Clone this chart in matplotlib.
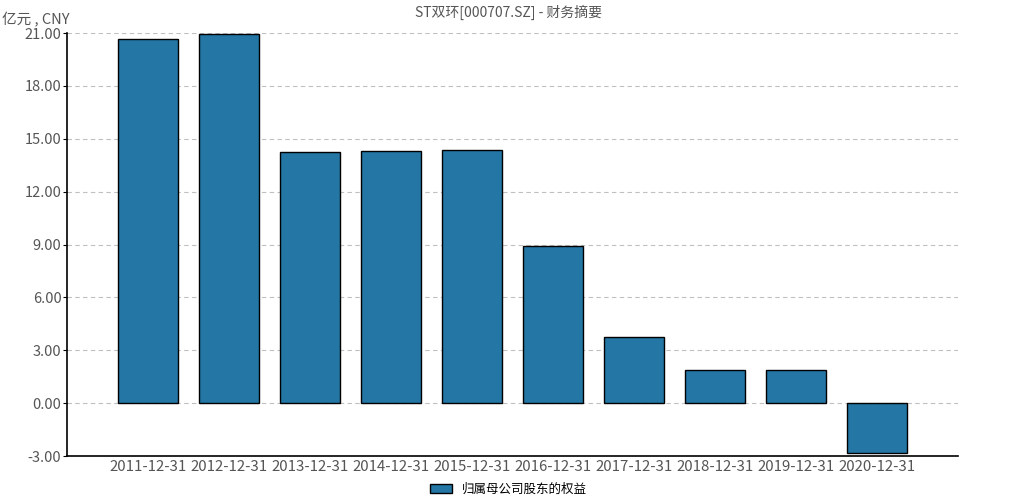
import numpy as np
import matplotlib.pyplot as plt
from matplotlib.ticker import FormatStrFormatter

plt.rcParams['font.family'] = ['Noto Sans CJK SC', 'DejaVu Sans']

# 数据
dates = ["2011-12-31", "2012-12-31", "2013-12-31", "2014-12-31", "2015-12-31",
         "2016-12-31", "2017-12-31", "2018-12-31", "2019-12-31", "2020-12-31"]
equity = [20.66, 20.94, 14.25, 14.30, 14.36, 8.91, 3.75, 1.88, 1.88, -2.83]
yticks = [-3, 0, 3, 6, 9, 12, 15, 18, 21]

text_color = "#555555"

fig = plt.figure(figsize=(10.17, 5.01), dpi=100)
ax = fig.add_axes([0.0659, 0.0898, 0.876, 0.8443])

x = np.arange(len(dates))
ax.bar(x, equity, width=0.75, color="#2476a4", edgecolor="black", linewidth=1,
       label="归属母公司股东的权益", zorder=3)

ax.set_xlim(-1, 10)
ax.set_ylim(-3, 21)
ax.set_xticks(x)
ax.set_xticklabels(dates, fontsize=10.8, color=text_color)
ax.set_yticks(yticks)
ax.yaxis.set_major_formatter(FormatStrFormatter("%.2f"))
ax.tick_params(axis="y", labelsize=10.5, labelcolor=text_color, length=3, width=0.8, pad=1)
ax.tick_params(axis="x", length=0, pad=3)
ax.grid(axis="y", linestyle=(0, (4, 3)), color="#c0c0c0", linewidth=0.8, zorder=0)

for s in ["top", "right"]:
    ax.spines[s].set_visible(False)
ax.spines["left"].set_linewidth(1.2)
ax.spines["bottom"].set_linewidth(1.2)

fig.text(0.5, 0.99, "ST双环[000707.SZ] - 财务摘要", ha="center", va="top",
         fontsize=10, color=text_color)
fig.text(0.002, 0.975, "亿元 , CNY", ha="left", va="top", fontsize=10.5, color=text_color)

fig.legend(loc="lower center", bbox_to_anchor=(0.5, -0.012), frameon=False,
           fontsize=9, handlelength=1.8, handleheight=0.8)

fig.savefig("out.png", dpi=100)
